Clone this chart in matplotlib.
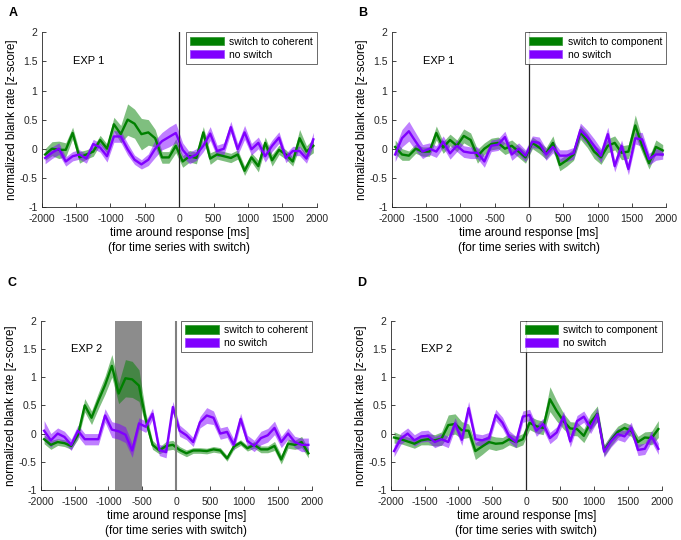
"""Blank rate around the response, switch vs. no-switch, EXP 1 and EXP 2 (four panels)."""

import matplotlib

matplotlib.use("Agg")
import matplotlib.pyplot as plt
import numpy as np
from matplotlib.patches import Patch

plt.rcParams["font.family"] = ["Liberation Sans", "DejaVu Sans"]
plt.rcParams["axes.unicode_minus"] = False

# bin centres [ms] around the response
TIME_MS = [-1950, -1850, -1750, -1650, -1550, -1450, -1350, -1250, -1150, -1050,
           -950, -850, -750, -650, -550, -450, -350, -250, -150, -50,
           50, 150, 250, 350, 450, 550, 650, 750, 850, 950,
           1050, 1150, 1250, 1350, 1450, 1550, 1650, 1750, 1850, 1950]

# --- panel A: EXP 1, switch to coherent
A_SWITCH = [-0.10, 0.00, -0.02, -0.02, 0.27, -0.15, -0.10, -0.05, 0.15, 0.00,
            0.42, 0.25, 0.50, 0.43, 0.25, 0.28, 0.18, -0.15, -0.15, 0.05,
            -0.22, -0.13, -0.16, 0.28, -0.17, -0.10, -0.13, -0.16, -0.10, -0.38,
            -0.15, -0.30, 0.10, -0.20, -0.02, -0.10, -0.22, 0.18, -0.05, 0.05]
A_SWITCH_SEM = [0.10, 0.12, 0.15, 0.12, 0.10, 0.10, 0.08, 0.08, 0.08, 0.08,
                0.12, 0.15, 0.27, 0.25, 0.27, 0.22, 0.15, 0.10, 0.10, 0.12,
                0.10, 0.10, 0.10, 0.10, 0.10, 0.08, 0.08, 0.08, 0.08, 0.08,
                0.08, 0.10, 0.10, 0.10, 0.08, 0.08, 0.08, 0.15, 0.10, 0.12]
A_NOSWITCH = [-0.16, -0.07, 0.00, -0.22, -0.13, -0.10, -0.17, 0.08, 0.02, -0.13,
              0.21, 0.21, -0.01, -0.19, -0.27, -0.19, 0.00, 0.13, 0.20, 0.27,
              -0.02, -0.16, -0.10, 0.05, 0.26, -0.04, 0.00, 0.37, -0.01, 0.28,
              -0.01, 0.10, -0.13, 0.05, 0.19, -0.16, -0.04, -0.04, -0.17, 0.16]
A_NOSWITCH_SEM = [0.10, 0.10, 0.10, 0.08, 0.08, 0.08, 0.08, 0.08, 0.08, 0.10,
                  0.10, 0.10, 0.10, 0.08, 0.08, 0.10, 0.15, 0.15, 0.17, 0.17,
                  0.12, 0.10, 0.10, 0.10, 0.12, 0.10, 0.10, 0.10, 0.10, 0.12,
                  0.10, 0.10, 0.10, 0.10, 0.10, 0.08, 0.08, 0.08, 0.08, 0.12]

# --- panel B: EXP 1, switch to component
B_SWITCH = [0.03, -0.10, -0.12, 0.00, -0.05, -0.05, 0.27, 0.02, 0.15, 0.05,
            0.22, 0.15, -0.13, 0.00, 0.08, 0.10, 0.00, 0.05, -0.05, -0.15,
            0.10, 0.02, -0.08, 0.10, -0.28, -0.20, -0.10, 0.28, 0.14, -0.05,
            -0.15, 0.05, 0.10, -0.07, -0.05, 0.40, 0.05, -0.25, 0.03, -0.03]
B_SWITCH_SEM = [0.12, 0.10, 0.08, 0.08, 0.08, 0.08, 0.12, 0.10, 0.10, 0.10,
                0.12, 0.12, 0.12, 0.10, 0.10, 0.10, 0.10, 0.10, 0.10, 0.10,
                0.10, 0.10, 0.10, 0.12, 0.10, 0.10, 0.10, 0.12, 0.12, 0.12,
                0.12, 0.12, 0.12, 0.12, 0.12, 0.18, 0.12, 0.10, 0.12, 0.10]
B_NOSWITCH = [-0.10, 0.18, 0.30, 0.12, -0.05, 0.00, -0.05, 0.12, -0.08, 0.05,
              -0.05, -0.07, -0.07, -0.22, 0.05, 0.07, 0.20, -0.10, 0.00, -0.12,
              0.12, 0.10, -0.10, 0.03, -0.12, -0.12, -0.08, 0.32, 0.20, 0.05,
              -0.12, 0.25, -0.30, 0.05, -0.35, 0.18, 0.16, -0.18, -0.10, -0.10]
B_NOSWITCH_SEM = [0.12, 0.15, 0.17, 0.15, 0.12, 0.10, 0.10, 0.10, 0.10, 0.10,
                  0.10, 0.10, 0.10, 0.10, 0.10, 0.10, 0.10, 0.10, 0.10, 0.10,
                  0.10, 0.10, 0.10, 0.10, 0.10, 0.10, 0.10, 0.12, 0.12, 0.12,
                  0.12, 0.12, 0.10, 0.10, 0.10, 0.10, 0.12, 0.10, 0.10, 0.08]

# --- panel C: EXP 2, switch to coherent
C_SWITCH = [-0.10, -0.20, -0.15, -0.17, -0.22, -0.02, 0.50, 0.28, 0.58, 0.86,
            1.20, 0.71, 0.98, 0.96, 0.85, 0.25, -0.20, -0.30, -0.22, -0.20,
            -0.29, -0.35, -0.30, -0.30, -0.31, -0.28, -0.30, -0.44, -0.23, -0.16,
            -0.26, -0.20, -0.28, -0.28, -0.22, -0.46, -0.18, -0.20, -0.15, -0.35]
C_SWITCH_SEM = [0.08, 0.08, 0.06, 0.06, 0.06, 0.08, 0.12, 0.12, 0.14, 0.16,
                0.20, 0.18, 0.33, 0.32, 0.28, 0.12, 0.08, 0.06, 0.08, 0.08,
                0.06, 0.06, 0.05, 0.05, 0.05, 0.05, 0.05, 0.05, 0.05, 0.05,
                0.05, 0.06, 0.06, 0.06, 0.08, 0.08, 0.08, 0.08, 0.10, 0.08]
C_NOSWITCH = [0.05, -0.12, 0.00, -0.06, -0.20, 0.05, -0.10, -0.10, -0.10, 0.32,
              0.07, 0.04, -0.02, -0.30, 0.18, 0.12, 0.35, -0.29, -0.33, 0.47,
              0.05, -0.03, -0.15, 0.20, 0.32, 0.28, 0.00, 0.03, -0.20, 0.26,
              -0.13, -0.22, -0.08, -0.03, 0.10, -0.15, 0.00, -0.15, -0.20, -0.20]
C_NOSWITCH_SEM = [0.18, 0.12, 0.10, 0.10, 0.10, 0.10, 0.10, 0.10, 0.10, 0.12,
                  0.14, 0.14, 0.14, 0.12, 0.10, 0.10, 0.10, 0.10, 0.10, 0.10,
                  0.10, 0.08, 0.08, 0.10, 0.14, 0.12, 0.10, 0.10, 0.10, 0.10,
                  0.10, 0.10, 0.12, 0.12, 0.12, 0.10, 0.10, 0.10, 0.12, 0.12]
C_SIG_WINDOW = [-900, -510]  # grey significance window

# --- panel D: EXP 2, switch to component
D_SWITCH = [-0.07, -0.10, -0.14, -0.18, -0.12, -0.10, -0.12, -0.09, 0.15, 0.17,
            0.06, 0.05, -0.31, -0.23, -0.15, -0.18, -0.17, -0.10, -0.15, -0.10,
            0.19, 0.13, 0.10, 0.61, 0.40, 0.22, 0.09, 0.08, -0.04, 0.20,
            0.35, -0.30, -0.12, 0.03, 0.10, 0.05, -0.15, -0.07, -0.08, 0.08]
D_SWITCH_SEM = [0.10, 0.08, 0.08, 0.08, 0.08, 0.10, 0.10, 0.12, 0.18, 0.18,
                0.15, 0.12, 0.15, 0.14, 0.12, 0.12, 0.10, 0.10, 0.10, 0.10,
                0.12, 0.12, 0.12, 0.22, 0.18, 0.14, 0.12, 0.12, 0.12, 0.14,
                0.14, 0.10, 0.10, 0.10, 0.10, 0.10, 0.10, 0.10, 0.12, 0.15]
D_NOSWITCH = [-0.31, -0.09, 0.00, -0.12, -0.05, -0.04, -0.15, -0.10, -0.15, 0.18,
              -0.11, 0.45, -0.10, -0.12, -0.08, 0.33, 0.19, -0.05, -0.15, 0.30,
              0.33, 0.05, 0.17, -0.08, 0.02, 0.30, -0.14, 0.22, 0.30, 0.10,
              0.34, -0.32, -0.14, -0.01, -0.05, 0.10, -0.29, -0.27, -0.05, -0.27]
D_NOSWITCH_SEM = [0.10, 0.10, 0.10, 0.10, 0.10, 0.10, 0.10, 0.10, 0.10, 0.10,
                  0.10, 0.12, 0.10, 0.10, 0.10, 0.10, 0.10, 0.10, 0.10, 0.10,
                  0.10, 0.10, 0.10, 0.10, 0.10, 0.10, 0.10, 0.10, 0.10, 0.10,
                  0.12, 0.10, 0.10, 0.10, 0.10, 0.10, 0.10, 0.10, 0.10, 0.10]

GREEN = "#008000"
PURPLE = "#8000ff"
AXCOL = "#262626"
XTICKS = [-2000, -1500, -1000, -500, 0, 500, 1000, 1500, 2000]
YTICKS = [-1, -0.5, 0, 0.5, 1, 1.5, 2]

# letter, axes rect [l, b, w, h] (figure fraction), exp label, switch label, data
PANELS = [
    ("A", [0.0612, 0.617, 0.404, 0.323], "EXP 1", "switch to coherent",
     A_SWITCH, A_SWITCH_SEM, A_NOSWITCH, A_NOSWITCH_SEM, None),
    ("B", [0.5752, 0.617, 0.403, 0.323], "EXP 1", "switch to component",
     B_SWITCH, B_SWITCH_SEM, B_NOSWITCH, B_NOSWITCH_SEM, None),
    ("C", [0.0598, 0.0926, 0.398, 0.3135], "EXP 2", "switch to coherent",
     C_SWITCH, C_SWITCH_SEM, C_NOSWITCH, C_NOSWITCH_SEM, C_SIG_WINDOW),
    ("D", [0.5737, 0.0926, 0.398, 0.3135], "EXP 2", "switch to component",
     D_SWITCH, D_SWITCH_SEM, D_NOSWITCH, D_NOSWITCH_SEM, None),
]


def shaded(ax, t, m, s, color):
    m, s = np.asarray(m), np.asarray(s)
    ax.fill_between(t, m - s, m + s, color=color, alpha=0.5, lw=0)
    ax.plot(t, m, color=color, lw=1.7)


def draw_panel(fig, letter, rect, exp, sw_label, sw, sw_sem, ns, ns_sem, window):
    ax = fig.add_axes(rect)
    if window is not None:
        ax.axvspan(window[0], window[1], color="#8c8c8c", lw=0, zorder=0)
    shaded(ax, TIME_MS, sw, sw_sem, GREEN)
    shaded(ax, TIME_MS, ns, ns_sem, PURPLE)
    if window is not None:
        ax.axvline(0, color="#808080", lw=1.5)
    else:
        ax.axvline(0, color=AXCOL, lw=0.9)

    ax.set_xlim(-2000, 2000)
    ax.set_ylim(-1, 2)
    ax.set_xticks(XTICKS)
    ax.set_yticks(YTICKS)
    ax.set_yticklabels([f"{v:g}" for v in YTICKS])
    ax.tick_params(direction="in", labelsize=7.5, colors=AXCOL, length=3, width=0.6)
    ax.tick_params(axis="x", pad=5)
    ax.tick_params(axis="y", pad=3)
    for side in ("top", "right"):
        ax.spines[side].set_visible(False)
    for side in ("left", "bottom"):
        ax.spines[side].set_color(AXCOL)
        ax.spines[side].set_linewidth(0.6)

    ax.set_ylabel("normalized blank rate [z-score]", fontsize=8.5, labelpad=1)
    ax.set_xlabel("time around response [ms]\n(for time series with switch)",
                  fontsize=8.5, labelpad=2, linespacing=1.35)
    ax.text(-1550, 1.5, exp, fontsize=8, va="center", ha="left")

    handles = [Patch(facecolor=GREEN, edgecolor="#3a9a3a", lw=0.6),
               Patch(facecolor=PURPLE, edgecolor="#a050ff", lw=0.6)]
    leg = ax.legend(handles, [sw_label, "no switch"], loc="upper right",
                    fontsize=7.5, frameon=True, fancybox=False, borderaxespad=0,
                    handlelength=3.2, handleheight=0.9, handletextpad=0.5,
                    labelspacing=0.3, borderpad=0.4)
    leg.get_frame().set_edgecolor(AXCOL)
    leg.get_frame().set_linewidth(0.6)

    fig.text(rect[0] - 0.049, 0.976 if letter in "AB" else 0.476, letter,
             fontsize=9, fontweight="bold", va="center", ha="left")


def main():
    fig = plt.figure(figsize=(6.81, 5.40), dpi=100)
    for p in PANELS:
        draw_panel(fig, *p)
    fig.savefig("out.png", dpi=100)
    plt.close(fig)


if __name__ == "__main__":
    main()
